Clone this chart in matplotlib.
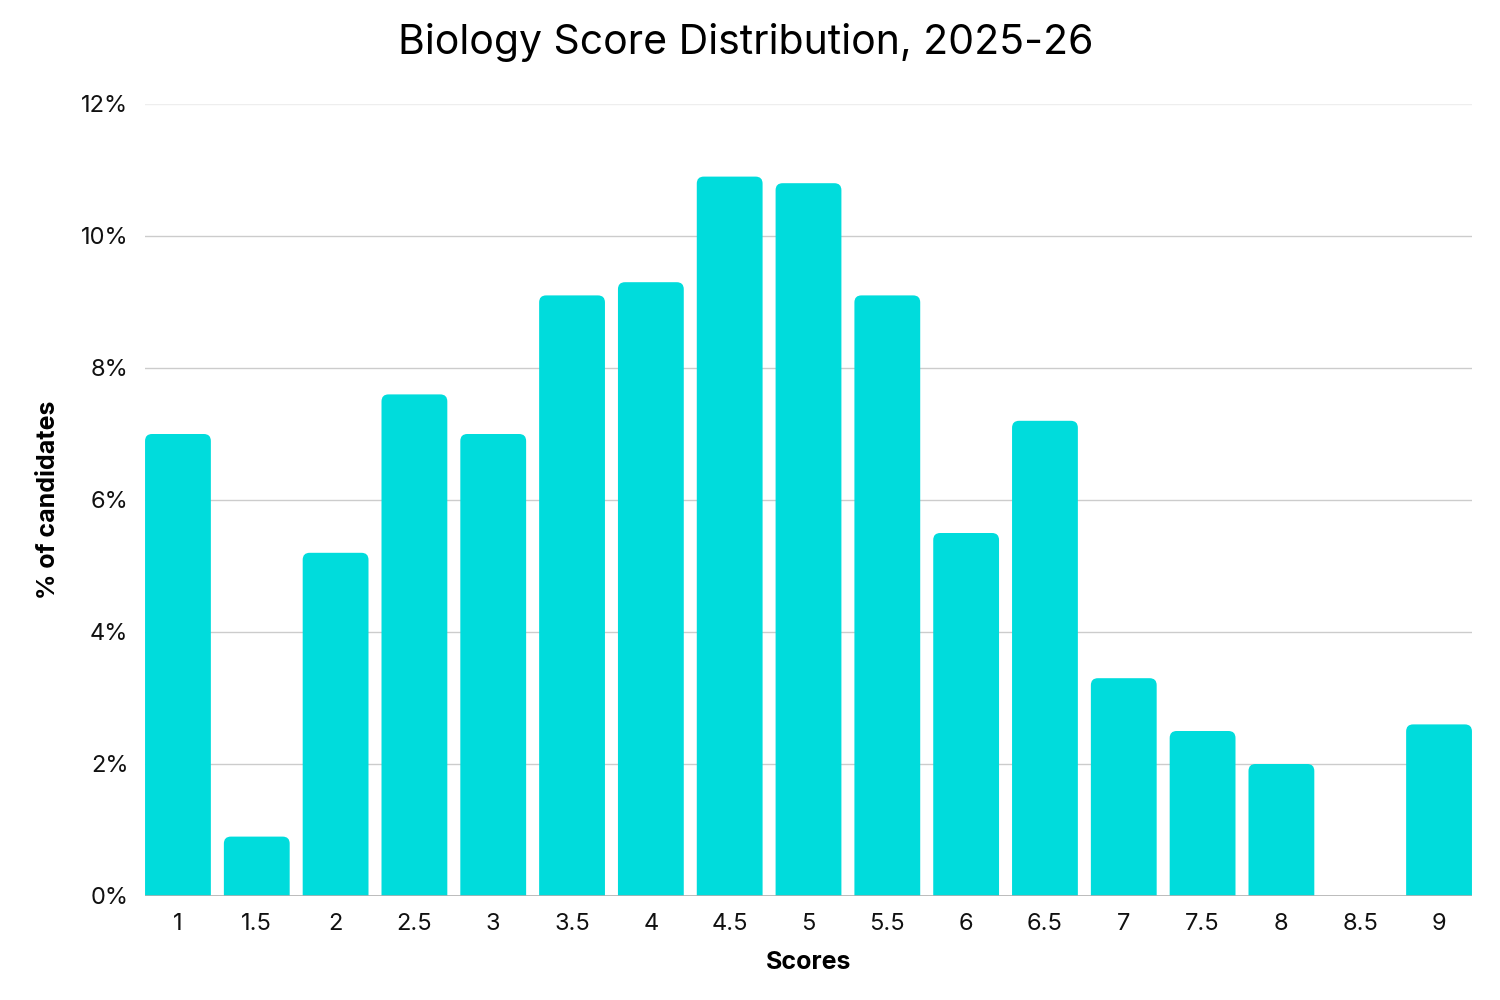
import numpy as np
import matplotlib.pyplot as plt
from matplotlib.patches import FancyBboxPatch
from matplotlib.ticker import FuncFormatter

# --- veriler ---
scores = ['1', '1.5', '2', '2.5', '3', '3.5', '4', '4.5', '5', '5.5',
          '6', '6.5', '7', '7.5', '8', '8.5', '9']
percent = [7.0, 0.9, 5.2, 7.6, 7.0, 9.1, 9.3, 10.9, 10.8, 9.1,
           5.5, 7.2, 3.3, 2.5, 2.0, 0.0, 2.6]
yticks = [0, 2, 4, 6, 8, 10, 12]

bar_color = '#00DCDC'
bar_w = 0.835

plt.rcParams['font.family'] = ['Inter', 'DejaVu Sans']

fig = plt.figure(figsize=(15, 10), dpi=100)
ax = fig.add_axes([0.0967, 0.104, 0.8846, 0.792])

x = np.arange(len(scores))
ax.set_xlim(-bar_w / 2, len(scores) - 1 + bar_w / 2)
ax.set_ylim(0, 12)

# piksel başına veri birimi -> köşe yuvarlama için oran
ax_w_px = 0.8846 * 1500
ax_h_px = 0.792 * 1000
px_x = (len(scores) - 1 + bar_w) / ax_w_px
px_y = 12 / ax_h_px
r_px = 7
aspect = px_y / px_x

for xi, v in zip(x, percent):
    if v <= 0:
        continue
    # alt kısım eksen sınırında kırpılır, sadece üst köşeler yuvarlak görünür
    box = FancyBboxPatch((xi - bar_w / 2, -1), bar_w, v + 1,
                         boxstyle=f"round,pad=0,rounding_size={r_px * px_x}",
                         mutation_aspect=aspect,
                         facecolor=bar_color, edgecolor='none', zorder=3)
    ax.add_patch(box)

ax.set_xticks(x)
ax.set_xticklabels(scores)
ax.set_yticks(yticks)
ax.yaxis.set_major_formatter(FuncFormatter(lambda v, p: f'{v:.0f}%'))

# ızgara çizgileri
for t in yticks[1:]:
    ax.axhline(t, color='#eeeeee' if t == 12 else '#cccccc', lw=1, zorder=1)
ax.axhline(0, color='#b0b0b0', lw=1.2, zorder=4)

for s in ax.spines.values():
    s.set_visible(False)
ax.tick_params(axis='both', length=0, labelsize=17, colors='#111111')
ax.tick_params(axis='x', pad=12)
ax.tick_params(axis='y', pad=12)

ax.set_xlabel('Scores', fontsize=18, fontweight='bold', labelpad=12)
ax.set_ylabel('% of candidates', fontsize=18, fontweight='bold', labelpad=15)

fig.text(0.497, 0.957, 'Biology Score Distribution, 2025-26',
         fontsize=29.5, ha='center', va='center')

fig.savefig('out.png', dpi=100)
